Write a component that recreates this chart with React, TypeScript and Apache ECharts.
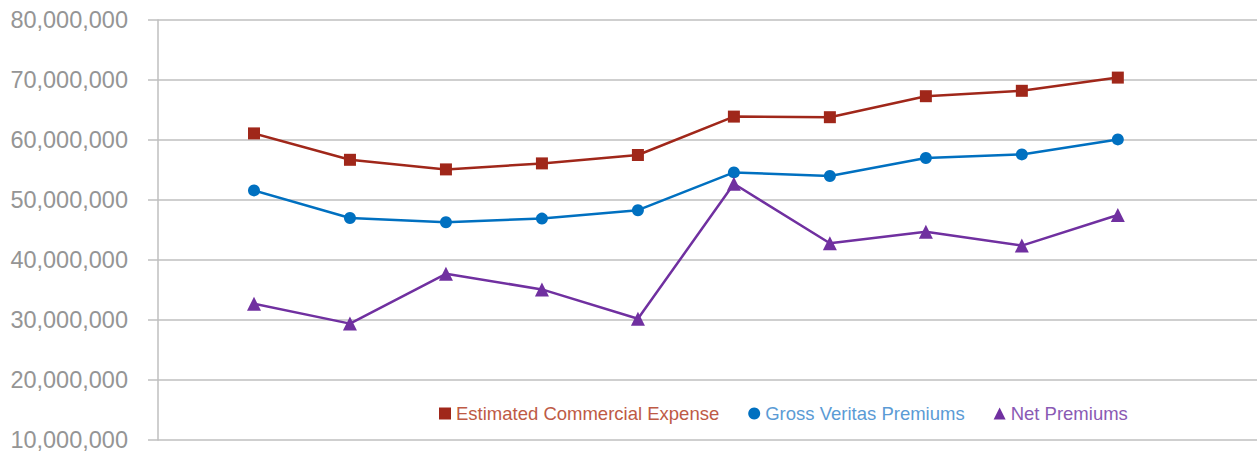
import React, { useEffect, useRef } from "react";
import * as echarts from "echarts";

const categories = ["1", "2", "3", "4", "5", "6", "7", "8", "9", "10"];
const estimatedCommercialExpense = [61.1, 56.7, 55.1, 56.1, 57.5, 63.9, 63.8, 67.3, 68.2, 70.4];
const grossVeritasPremiums = [51.6, 47.0, 46.3, 46.9, 48.3, 54.6, 54.0, 57.0, 57.6, 60.1];
const netPremiums = [32.7, 29.4, 37.7, 35.1, 30.2, 52.7, 42.8, 44.7, 42.4, 47.5];
const yTicks = { min: 10000000, max: 80000000, interval: 10000000 };

const toPairs = (vals: number[]) => vals.map((v, i) => [i + 1, v * 1000000]);

export default function App() {
  const ref = useRef<HTMLDivElement>(null);
  useEffect(() => {
    if (!ref.current) return;
    const chart = echarts.init(ref.current, undefined, { renderer: "svg" });
    const font = "'Liberation Sans', Arial, sans-serif";
    chart.setOption({
      animation: false,
      grid: { left: 158, right: 0, top: 20, bottom: 12, containLabel: false },
      xAxis: {
        type: "value",
        min: 0,
        max: 11.45,
        show: false,
        data: categories,
      },
      yAxis: {
        type: "value",
        min: yTicks.min,
        max: yTicks.max,
        interval: yTicks.interval,
        axisLine: { show: true, lineStyle: { color: "#BFBFBF", width: 1.5 } },
        axisTick: { show: true, length: 10, lineStyle: { color: "#BFBFBF", width: 1.5 } },
        splitLine: { show: true, lineStyle: { color: "#BFBFBF", width: 1.5 } },
        axisLabel: {
          color: "#959595",
          fontSize: 23.5,
          fontFamily: font,
          margin: 30,
          formatter: (v: number) => v.toLocaleString("en-US"),
        },
      },
      legend: {
        left: 434,
        top: 399,
        itemWidth: 12,
        itemHeight: 12,
        itemGap: 29,
        textStyle: { fontSize: 18.5, fontFamily: font },
        data: [
          { name: "Estimated Commercial Expense", icon: "rect", textStyle: { color: "#BE5A45" } },
          { name: "Gross Veritas Premiums", icon: "circle", textStyle: { color: "#5B9BD5" } },
          { name: "Net Premiums", icon: "triangle", textStyle: { color: "#8A5AB4" } },
        ],
      },
      series: [
        {
          name: "Estimated Commercial Expense",
          type: "line",
          data: toPairs(estimatedCommercialExpense),
          symbol: "rect",
          symbolSize: 12,
          color: "#A0271A",
          lineStyle: { width: 2.5, color: "#A0271A" },
          itemStyle: { color: "#A0271A" },
        },
        {
          name: "Gross Veritas Premiums",
          type: "line",
          data: toPairs(grossVeritasPremiums),
          symbol: "circle",
          symbolSize: 12,
          color: "#0070C0",
          lineStyle: { width: 2.5, color: "#0070C0" },
          itemStyle: { color: "#0070C0" },
        },
        {
          name: "Net Premiums",
          type: "line",
          data: toPairs(netPremiums),
          symbol: "triangle",
          symbolSize: 14,
          color: "#7030A0",
          lineStyle: { width: 2.5, color: "#7030A0" },
          itemStyle: { color: "#7030A0" },
        },
      ],
    });
    return () => chart.dispose();
  }, []);
  return (
    <div
      ref={ref}
      style={{ position: "fixed", left: 0, top: 0, width: 1257, height: 452, background: "#fff" }}
    />
  );
}
